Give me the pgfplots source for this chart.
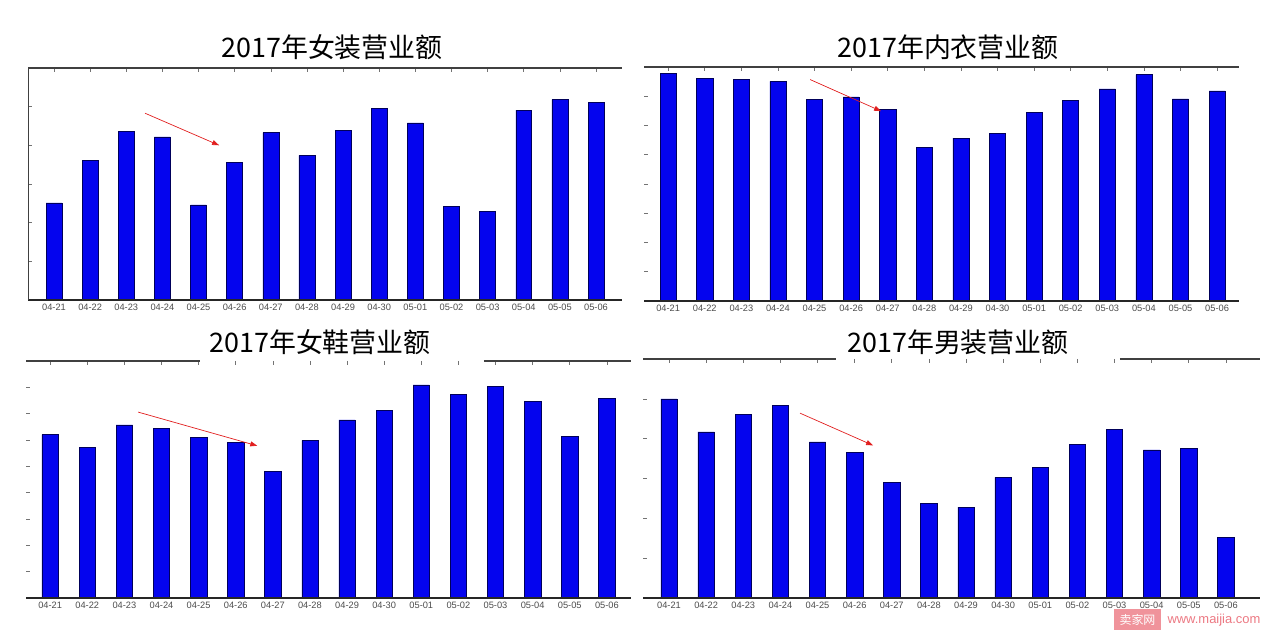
\documentclass[border=0pt]{standalone}
\usepackage{pgfplots}
\pgfplotsset{compat=1.18}
\usetikzlibrary{arrows.meta}
\usepackage{fontspec}
\setmainfont{Liberation Sans}
\newfontfamily\cjk{Noto Sans CJK SC}
\definecolor{barblue}{RGB}{4,4,238}
\definecolor{baredge}{RGB}{0,0,90}
\definecolor{arrowred}{RGB}{225,30,30}
\definecolor{wmpink}{RGB}{236,120,130}
\pgfplotsset{
  panel/.style={
    scale only axis, ybar, bar width=0.44, ymin=0,
    clip=false,
    axis line style={draw=none},
    xtick={0,...,15},
    xticklabels={04-21,04-22,04-23,04-24,04-25,04-26,04-27,04-28,04-29,04-30,05-01,05-02,05-03,05-04,05-05,05-06},
    xtick pos=upper, xticklabel pos=lower,
    ytick pos=left,
    yticklabels={},
    tick align=inside,
    major tick length=4bp,
    tick style={black!55, line width=0.6bp},
    x tick label style={font=\fontsize{9.3}{10}\selectfont, text=black!70, yshift=-1bp},
  },
  bars/.style={fill=barblue, draw=baredge, line width=0.5bp},
}
\begin{document}
\begin{tikzpicture}[x=1bp,y=1bp]
\path[use as bounding box] (0,0) rectangle (1271,632);

% Panel 1: 女装
\begin{axis}[panel, at={(28bp,332bp)}, anchor=south west,
  width=594bp, height=232bp, xmin=-0.72, xmax=15.72, ymax=6, ytick={1,2,3,4,5}]
\addplot[bars] coordinates {(0,2.51) (1,3.61) (2,4.36) (3,4.22) (4,2.46) (5,3.55) (6,4.33) (7,3.74) (8,4.39) (9,4.96) (10,4.58) (11,2.43) (12,2.29) (13,4.91) (14,5.18) (15,5.12)};
\draw[black!85, line width=1.4bp] (rel axis cs:0,0) -- (rel axis cs:1,0);
\draw[black!75, line width=1.1bp] (rel axis cs:0,1) -- (rel axis cs:1,1);
\draw[black!75, line width=0.9bp] (rel axis cs:0,0) -- (rel axis cs:0,1);
\draw[arrowred, line width=0.7bp, -{Triangle[length=7bp,width=5bp]}] (axis cs:2.52,4.83) -- (axis cs:4.57,4.0);
\end{axis}

% Panel 2: 内衣
\begin{axis}[panel, at={(644bp,331bp)}, anchor=south west,
  width=595bp, height=234bp, xmin=-0.66, xmax=15.6, ymax=8, ytick={1,2,3,4,5,6,7}]
\addplot[bars] coordinates {(0,7.78) (1,7.60) (2,7.57) (3,7.51) (4,6.89) (5,6.98) (6,6.56) (7,5.24) (8,5.57) (9,5.73) (10,6.46) (11,6.86) (12,7.25) (13,7.74) (14,6.91) (15,7.18)};
\draw[black!85, line width=1.4bp] (rel axis cs:0,0) -- (rel axis cs:1,0);
\draw[black!75, line width=1.1bp] (rel axis cs:0,1) -- (rel axis cs:1,1);
\draw[arrowred, line width=0.7bp, -{Triangle[length=7bp,width=5bp]}] (axis cs:3.88,7.57) -- (axis cs:5.82,6.49);
\end{axis}

% Panel 3: 女鞋
\begin{axis}[panel, at={(26bp,34bp)}, anchor=south west,
  width=605bp, height=237bp, xmin=-0.65, xmax=15.65, ymax=9, ytick={1,2,3,4,5,6,7,8}]
\addplot[bars] coordinates {(0,6.20) (1,5.72) (2,6.57) (3,6.43) (4,6.09) (5,5.91) (6,4.82) (7,5.99) (8,6.76) (9,7.13) (10,8.09) (11,7.72) (12,8.05) (13,7.47) (14,6.15) (15,7.58)};
\draw[black!85, line width=1.4bp] (rel axis cs:0,0) -- (rel axis cs:1,0);
\draw[black!75, line width=1.1bp] (rel axis cs:0,1) -- (rel axis cs:0.288,1);
\draw[black!75, line width=1.1bp] (rel axis cs:0.757,1) -- (rel axis cs:1,1);
\draw[arrowred, line width=0.7bp, -{Triangle[length=7bp,width=5bp]}] (axis cs:2.37,7.06) -- (axis cs:5.58,5.78);
\end{axis}

% Panel 4: 男装
\begin{axis}[panel, at={(643bp,34bp)}, anchor=south west,
  width=617bp, height=239bp, xmin=-0.70, xmax=15.92, ymax=6, ytick={1,2,3,4,5}]
\addplot[bars] coordinates {(0,5.00) (1,4.17) (2,4.61) (3,4.84) (4,3.92) (5,3.65) (6,2.90) (7,2.38) (8,2.28) (9,3.03) (10,3.28) (11,3.85) (12,4.23) (13,3.72) (14,3.75) (15,1.52)};
\draw[black!85, line width=1.4bp] (rel axis cs:0,0) -- (rel axis cs:1,0);
\draw[black!75, line width=1.1bp] (rel axis cs:0,1) -- (rel axis cs:0.313,1);
\draw[black!75, line width=1.1bp] (rel axis cs:0.773,1) -- (rel axis cs:1,1);
\draw[arrowred, line width=0.7bp, -{Triangle[length=7bp,width=5bp]}] (axis cs:3.53,4.64) -- (axis cs:5.50,3.83);
\end{axis}

% Titles
\node[font=\cjk\fontsize{27}{27}\selectfont] at (332,585) {2017年女装营业额};
\node[font=\cjk\fontsize{27}{27}\selectfont] at (948,585) {2017年内衣营业额};
\node[font=\cjk\fontsize{27}{27}\selectfont] at (320,290) {2017年女鞋营业额};
\node[font=\cjk\fontsize{27}{27}\selectfont] at (958,290) {2017年男装营业额};

% Watermark
\fill[wmpink!80] (1114,2) rectangle (1161,23);
\node[font=\cjk\fontsize{12}{12}\selectfont, text=white] at (1137.5,12.5) {卖家网};
\node[font=\fontsize{13}{13}\selectfont, text=wmpink, anchor=west] at (1164,12) {www.maijia.com};
\end{tikzpicture}
\end{document}
